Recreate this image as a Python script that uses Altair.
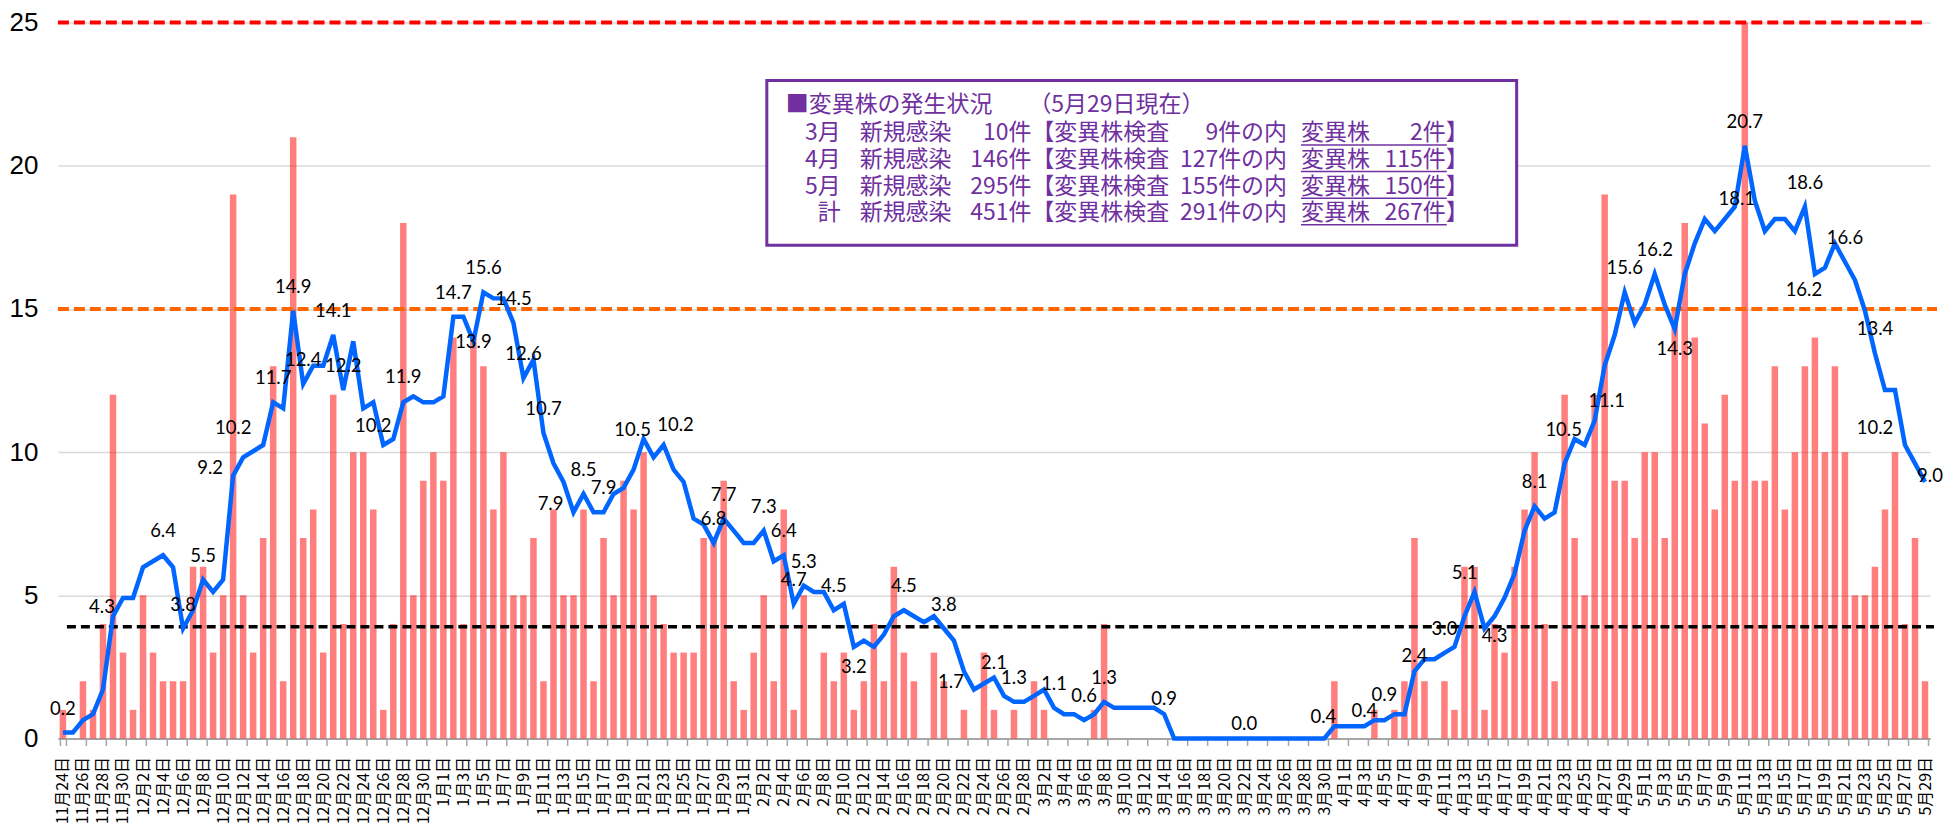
import altair as alt
import pandas as pd

# ---------------- data ----------------
days = pd.date_range("2020-11-24", "2021-05-29", freq="D")
dates = [f"{d.month}月{d.day}日" for d in days]

# daily new cases (bars)
cnt_nov = [1, 0, 2, 1, 4, 12, 3]
cnt_dec = [1, 5, 3, 2, 2, 2, 6, 6, 3, 5,
           19, 5, 3, 7, 13, 2, 21, 7, 8, 3,
           12, 4, 10, 10, 8, 1, 4, 18, 5, 9, 10]
cnt_jan = [9, 14, 4, 14, 13, 8, 10, 5, 5, 7,
           2, 8, 5, 5, 8, 2, 7, 5, 9, 8,
           10, 5, 4, 3, 3, 3, 7, 7, 9, 2, 1]
cnt_feb = [3, 5, 2, 8, 1, 5, 0, 3, 2, 3,
           1, 2, 4, 2, 6, 3, 2, 0, 3, 2,
           0, 1, 0, 3, 1, 0, 1, 0]
cnt_mar = [2, 1, 0, 0, 0, 0, 1, 4, 0, 0,
           0, 0, 0, 0, 0, 0, 0, 0, 0, 0,
           0, 0, 0, 0, 0, 0, 0, 0, 0, 0, 2]
cnt_apr = [0, 0, 0, 1, 0, 1, 2, 7, 2, 0,
           2, 1, 6, 6, 1, 4, 3, 6, 8, 10,
           4, 2, 12, 7, 5, 12, 19, 9, 9, 7]
cnt_may = [10, 10, 7, 15, 18, 14, 11, 8, 12, 9,
           25, 9, 9, 13, 8, 10, 13, 14, 10, 13,
           10, 5, 5, 6, 8, 10, 4, 7, 2]

# weekly rate line
avg_nov = [0.21, 0.21, 0.64, 0.85, 1.71, 4.27, 4.91]
avg_dec = [4.91, 5.98, 6.19, 6.40, 5.98, 3.84, 4.48, 5.55, 5.12, 5.55,
           9.18, 9.82, 10.03, 10.25, 11.74, 11.53, 14.94, 12.38, 13.02, 13.02,
           14.09, 12.17, 13.87, 11.53, 11.74, 10.25, 10.46, 11.74, 11.95, 11.74, 11.74]
avg_jan = [11.95, 14.73, 14.73, 13.87, 15.58, 15.37, 15.37, 14.51, 12.59, 13.23,
           10.67, 9.61, 8.96, 7.90, 8.54, 7.90, 7.90, 8.54, 8.75, 9.39,
           10.46, 9.82, 10.25, 9.39, 8.96, 7.68, 7.47, 6.83, 7.68, 7.26, 6.83]
avg_feb = [6.83, 7.26, 6.19, 6.40, 4.70, 5.34, 5.12, 5.12, 4.48, 4.70,
           3.20, 3.42, 3.20, 3.63, 4.27, 4.48, 4.27, 4.06, 4.27, 3.84,
           3.42, 2.35, 1.71, 1.92, 2.13, 1.49, 1.28, 1.28]
avg_mar = [1.49, 1.71, 1.07, 0.85, 0.85, 0.64, 0.85, 1.28, 1.07, 1.07,
           1.07, 1.07, 1.07, 0.85, 0.0, 0.0, 0.0, 0.0, 0.0, 0.0,
           0.0, 0.0, 0.0, 0.0, 0.0, 0.0, 0.0, 0.0, 0.0, 0.0, 0.43]
avg_apr = [0.43, 0.43, 0.43, 0.64, 0.64, 0.85, 0.85, 2.35, 2.77, 2.77,
           2.99, 3.20, 4.27, 5.12, 3.84, 4.27, 4.91, 5.76, 7.26, 8.11,
           7.68, 7.90, 9.61, 10.46, 10.25, 11.10, 13.02, 14.09, 15.58, 14.51]
avg_may = [15.15, 16.22, 15.15, 14.30, 16.22, 17.29, 18.14, 17.72, 18.14, 18.57,
           20.70, 18.78, 17.72, 18.14, 18.14, 17.72, 18.57, 16.22, 16.44, 17.29,
           16.65, 16.01, 14.94, 13.45, 12.17, 12.17, 10.25, 9.61, 8.96]

counts = cnt_nov + cnt_dec + cnt_jan + cnt_feb + cnt_mar + cnt_apr + cnt_may
avg = avg_nov + avg_dec + avg_jan + avg_feb + avg_mar + avg_apr + avg_may

# data labels on the line: date, text, placement
label_dates = ["11月24日", "11月29日", "12月4日", "12月6日", "12月8日", "12月11日", "12月14日",
               "12月15日", "12月17日", "12月18日", "12月21日", "12月22日", "12月26日", "12月29日",
               "1月2日", "1月4日", "1月5日", "1月8日", "1月9日", "1月11日", "1月14日", "1月15日",
               "1月17日", "1月21日", "1月23日", "1月28日", "1月29日", "2月2日", "2月4日", "2月5日",
               "2月6日", "2月9日", "2月11日", "2月16日", "2月20日", "2月23日", "2月25日", "2月27日",
               "3月3日", "3月6日", "3月8日", "3月14日", "3月22日", "3月31日", "4月3日", "4月6日",
               "4月8日", "4月11日", "4月14日", "4月16日", "4月20日", "4月24日", "4月26日", "4月29日",
               "5月2日", "5月4日", "5月9日", "5月11日", "5月17日", "5月18日", "5月21日", "5月24日",
               "5月27日", "5月29日"]
label_texts = ["0.2", "4.3", "6.4", "3.8", "5.5", "9.2", "10.2",
               "11.7", "14.9", "12.4", "14.1", "12.2", "10.2", "11.9",
               "14.7", "13.9", "15.6", "14.5", "12.6", "10.7", "7.9", "8.5",
               "7.9", "10.5", "10.2", "6.8", "7.7", "7.3", "6.4", "4.7",
               "5.3", "4.5", "3.2", "4.5", "3.8", "1.7", "2.1", "1.3",
               "1.1", "0.6", "1.3", "0.9", "0.0", "0.4", "0.4", "0.9",
               "2.4", "3.0", "5.1", "4.3", "8.1", "10.5", "11.1", "15.6",
               "16.2", "14.3", "18.1", "20.7", "18.6", "16.2", "16.6", "13.4",
               "10.2", "9.0"]
label_pos = ["a", "ls", "a", "a", "a", "l", "ll",
             "a", "a", "a", "a", "a", "al", "al",
             "a", "c", "a", "a", "a", "a", "l", "a",
             "a", "ls", "ar", "a", "a", "a", "a", "a",
             "a", "a", "b", "a", "a", "l", "as", "a",
             "a", "a", "a", "as", "as", "ls", "as", "al",
             "as", "a", "al", "b", "a", "ls", "ar", "a",
             "a", "b", "ar", "a", "a", "bl", "a", "a",
             "ll", "r"]

threshold_levels = [25, 15, 3.9]

# legend box text
box_title = "■変異株の発生状況"
box_date = "（5月29日現在）"
box_months = ["3月", "4月", "5月", "計"]
box_new = ["10", "146", "295", "451"]
box_tested = ["9", "127", "155", "291"]
box_variant = ["2", "115", "150", "267"]

# ---------------- chart ----------------
CJK = "Noto Sans CJK JP"
PURPLE = "#7030A0"

df = pd.DataFrame({"date": dates, "count": counts, "avg": avg})
lab = pd.DataFrame({"date": label_dates, "text": label_texts, "pos": label_pos})
lab["avg"] = lab["date"].map(dict(zip(dates, avg)))

x_enc = alt.X(
    "date:O",
    scale=alt.Scale(domain=dates, paddingInner=0.35, paddingOuter=0.175),
    axis=alt.Axis(values=dates[::2], labelAngle=270, labelFont=CJK, labelFontSize=16,
                  labelColor="#000000", labelPadding=11, tickSize=7, tickColor="#a6a6a6",
                  tickWidth=1.5, tickBand="extent", domainColor="#a6a6a6", domainWidth=2,
                  labelOverlap=False, grid=False, title=None),
)
y_scale = alt.Scale(domain=[0, 25], nice=False)
y_axis = alt.Axis(values=[0, 5, 10, 15, 20, 25], grid=True, gridColor="#d9d9d9", gridWidth=1.5,
                  domain=False, ticks=False, tickSize=0, labelPadding=20,
                  labelFont="Liberation Sans", labelFontSize=26, labelColor="#000000",
                  title=None)


def y_enc(field):
    return alt.Y(f"{field}:Q", scale=y_scale, axis=y_axis)


bars = alt.Chart(df).mark_bar(color="#FF0000", opacity=0.5).encode(x=x_enc, y=y_enc("count"))

rule_styles = [("#FF0000", 4, [11, 5], 0, 1868),
               ("#FF6600", 4, [11, 5], 0, 1882),
               ("#000000", 3.5, [9, 5], 9, 1879)]
rules = []
for lvl, (col, w, dash, x0, x1) in zip(threshold_levels, rule_styles):
    rules.append(
        alt.Chart(pd.DataFrame({"level": [lvl]}))
        .mark_rule(color=col, strokeWidth=w, strokeDash=dash)
        .encode(y=y_enc("level"), x=alt.value(x0), x2=alt.value(x1))
    )

line = alt.Chart(df).mark_line(color="#0066FF", strokeWidth=4.5).encode(x=x_enc, y=y_enc("avg"))

offsets = {"a": (0, -24), "as": (0, -15), "al": (-10, -19), "ls": (-11, -9), "l": (-23, -8),
           "ll": (-30, -17), "ar": (12, -20), "b": (0, 20), "bl": (-11, 16), "c": (0, 1),
           "r": (5, -6)}
labels = []
for code, (dx, dy) in offsets.items():
    sub = lab[lab["pos"] == code]
    if len(sub) == 0:
        continue
    labels.append(
        alt.Chart(sub)
        .mark_text(dx=dx, dy=dy, font="Lato", fontSize=18.5, color="#000000", baseline="middle")
        .encode(x=x_enc, y=y_enc("avg"), text="text:N")
    )

# legend box (coordinates relative to the plot area, whose top is now 2 px lower)
TOP = 2
dummy = pd.DataFrame({"k": [0]})
box = alt.Chart(dummy).mark_rect(fill="white", stroke=PURPLE, strokeWidth=3).encode(
    x=alt.value(710), x2=alt.value(1461), y=alt.value(60 - TOP), y2=alt.value(225 - TOP)
)


def txt(s, x, y, align="left"):
    return alt.Chart(dummy).mark_text(
        align=align, baseline="middle", font=CJK, fontSize=23, color=PURPLE
    ).encode(x=alt.value(x), y=alt.value(y - TOP), text=alt.value(s))


legend = [txt(box_title, 729, 84.7), txt(box_date, 972, 84.7)]
row_y = [113, 139.7, 166.3, 193]
for k, yy in enumerate(row_y):
    legend += [
        txt(box_months[k], 784, yy, "right"),
        txt("新規感染", 803, yy),
        txt(box_new[k], 952, yy, "right"),
        txt("件【変異株検査", 952, yy),
        txt(box_tested[k], 1162, yy, "right"),
        txt("件の内", 1162, yy),
        txt("変異株", 1245, yy),
        txt(box_variant[k], 1367, yy, "right"),
        txt("件】", 1367, yy),
        alt.Chart(dummy).mark_rule(color=PURPLE, strokeWidth=1.5).encode(
            x=alt.value(1245), x2=alt.value(1391), y=alt.value(yy + 11.5 - TOP)
        ),
    ]

chart = (
    alt.layer(bars, *rules, line, *labels, box, *legend)
    .properties(
        width=1875,
        height=717,
        autosize=alt.AutoSizeParams(type="none"),
        padding={"left": 50, "top": 14, "right": 16, "bottom": 87},
    )
    .configure_view(stroke=None)
)

chart.save("out.html", embed_options={"renderer": "svg", "actions": False})
